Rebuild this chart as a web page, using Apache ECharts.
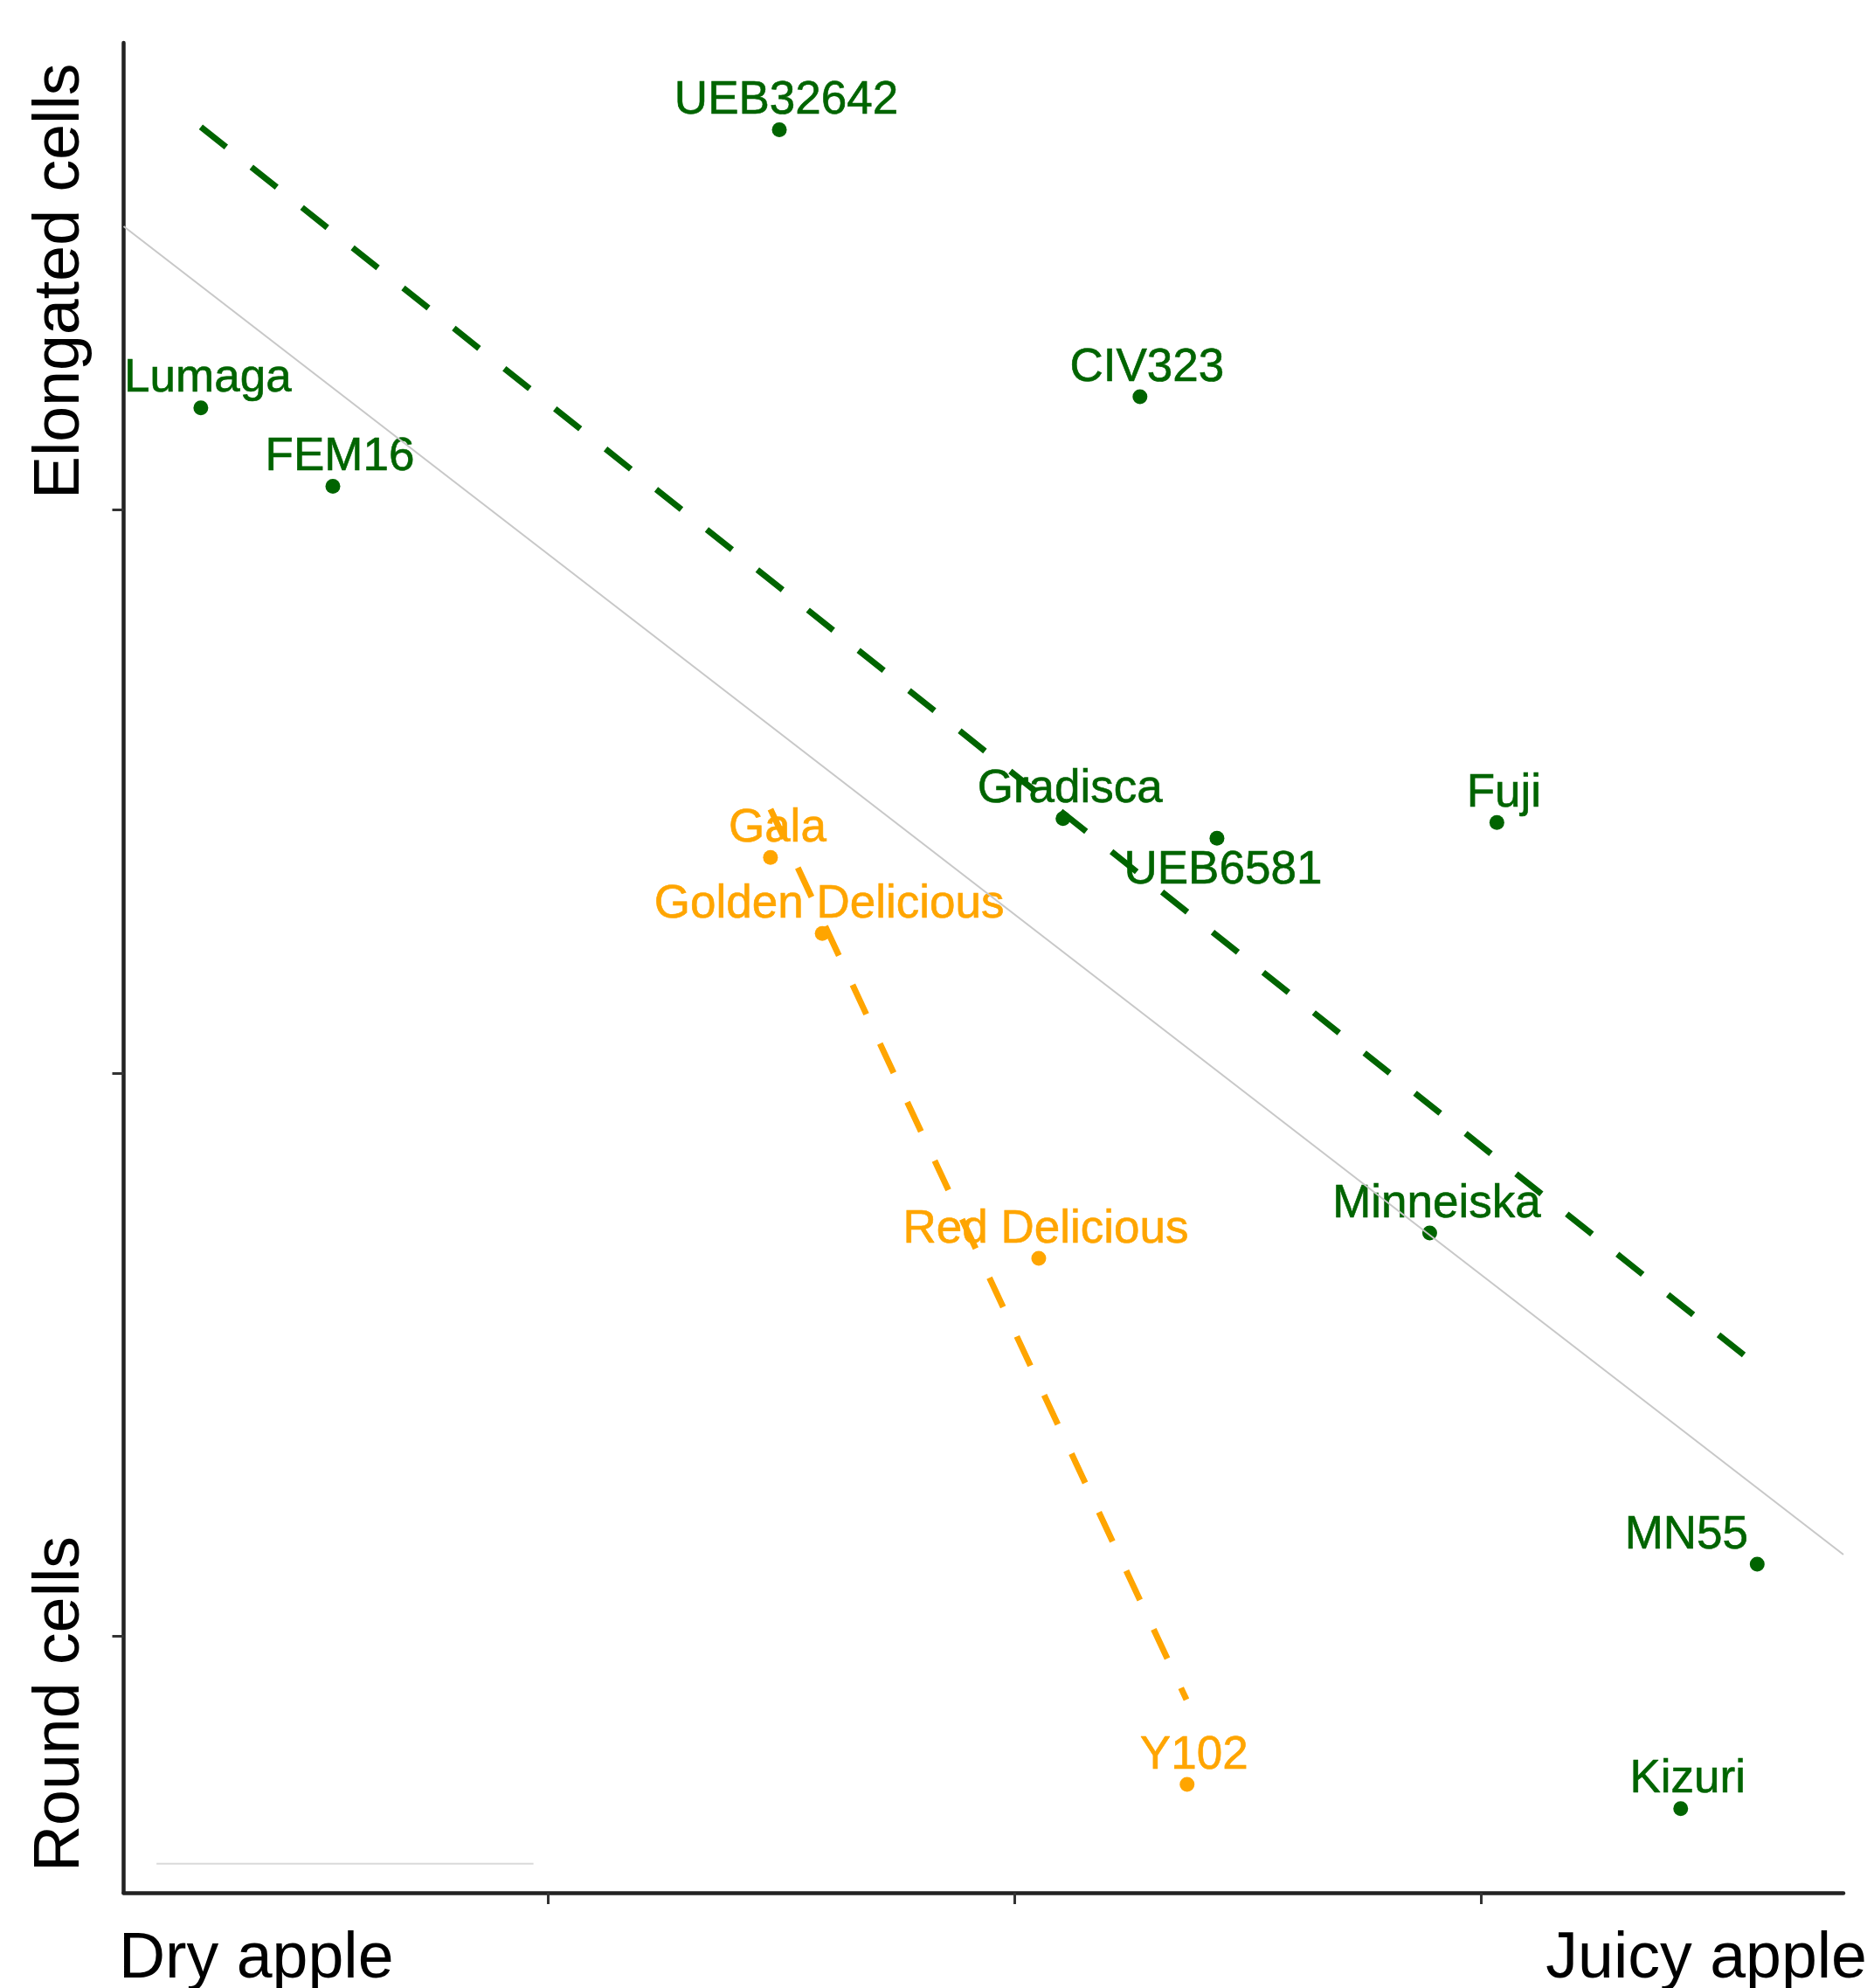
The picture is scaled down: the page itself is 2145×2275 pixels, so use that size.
<!DOCTYPE html>
<html>
<head>
<meta charset="utf-8">
<script src="https://cdn.jsdelivr.net/npm/echarts@6/dist/echarts.min.js"></script>
<style>
  html, body { margin: 0; padding: 0; background: #ffffff; }
  #chart { width: 2145px; height: 2275px; }
</style>
</head>
<body>
<div id="chart"></div>
<script>
// ---- data (axis units are arbitrary) ----
const xRange = [-1.9105, 1.7758];
const yRange = [-1.4554, 1.8293];
const xTicks = [-1, 0, 1];
const yTicks = [-1, 0, 1];

const greenNames = ['UEB32642', 'Lumaga', 'FEM16', 'CIV323', 'Gradisca', 'UEB6581', 'Fuji', 'Minneiska', 'MN55', 'Kizuri'];
const greenX = [-0.505, -1.745, -1.462, 0.268, 0.103, 0.433, 1.033, 0.889, 1.591, 1.427];
const greenY = [1.675, 1.181, 1.042, 1.201, 0.452, 0.417, 0.445, -0.284, -0.872, -1.306];

const orangeNames = ['Gala', 'Golden Delicious', 'Red Delicious', 'Y102'];
const orangeX = [-0.524, -0.413, 0.051, 0.369];
const orangeY = [0.383, 0.248, -0.329, -1.263];

// trend lines (end points)
const allFitX = [-1.9105, 1.7758];
const allFitY = [1.5035, -0.855];
const greenFitX = [-1.745, 1.592];
const greenFitY = [1.680, -0.520];
const orangeFitX = [-0.524, 0.3676];
const orangeFitY = [0.4686, -1.1125];
const greyBarX = [-1.840, -1.032];
const greyBarY = [-1.404, -1.404];

const xTitles = ['Dry apple', 'Juicy apple'];
const yTitles = ['Elongated cells', 'Round cells'];

// ---- styling ----
const GREEN = '#006400';
const ORANGE = '#FFA500';
const FONT = "'Liberation Sans', Arial, sans-serif";
const TITLE_FONT = "73.5px " + FONT;
const labelTweaks = {
  'MN55': { offset: [-81, 2] },
  'UEB6581': { position: 'bottom', distance: 1.8, offset: [7, 0] }
};

function pts(xs, ys) { return xs.map((x, i) => [x, ys[i]]); }

function scatterData(names, xs, ys, color) {
  return names.map((n, i) => {
    const t = labelTweaks[n] || {};
    return {
      name: n,
      value: [xs[i], ys[i]],
      label: {
        show: true,
        formatter: '{b}',
        position: t.position || 'top',
        distance: t.distance != null ? t.distance : 0,
        offset: t.offset || [8, 2],
        color: color,
        fontSize: 53,
        fontFamily: FONT,
        textBorderColor: color,
        textBorderWidth: 0.6
      }
    };
  });
}

const chart = echarts.init(document.getElementById('chart'), null, { renderer: 'canvas' });

chart.setOption({
  animation: false,
  backgroundColor: '#ffffff',
  grid: { left: 141.5, right: 35, top: 49, bottom: 109, outerBoundsMode: 'none', containLabel: false },
  xAxis: {
    type: 'value', min: xRange[0], max: xRange[1],
    axisLine: { show: true, onZero: false, lineStyle: { color: '#222', width: 4.5 } },
    axisTick: { show: true, customValues: xTicks, length: 13, lineStyle: { color: '#333', width: 3 } },
    axisLabel: { show: false },
    splitLine: { show: false }
  },
  yAxis: {
    type: 'value', min: yRange[0], max: yRange[1],
    axisLine: { show: true, onZero: false, lineStyle: { color: '#222', width: 4.5 } },
    axisTick: { show: true, customValues: yTicks, length: 13, lineStyle: { color: '#333', width: 3 } },
    axisLabel: { show: false },
    splitLine: { show: false }
  },
  graphic: [
    { type: 'text', x: 136, y: 2206, style: { text: xTitles[0], font: TITLE_FONT, fill: '#000', align: 'left', verticalAlign: 'top' } },
    { type: 'text', x: 2137, y: 2206, style: { text: xTitles[1], font: TITLE_FONT, fill: '#000', align: 'right', verticalAlign: 'top' } },
    { type: 'text', x: 33, y: 571, rotation: Math.PI / 2, style: { text: yTitles[0], font: TITLE_FONT, fill: '#000', align: 'left', verticalAlign: 'top' } },
    { type: 'text', x: 33, y: 2142, rotation: Math.PI / 2, style: { text: yTitles[1], font: TITLE_FONT, fill: '#000', align: 'left', verticalAlign: 'top' } }
  ],
  series: [
    {
      type: 'scatter', z: 2, symbol: 'circle', symbolSize: 17,
      itemStyle: { color: GREEN, opacity: 1 },
      data: scatterData(greenNames, greenX, greenY, GREEN)
    },
    {
      type: 'scatter', z: 2, symbol: 'circle', symbolSize: 17,
      itemStyle: { color: ORANGE, opacity: 1 },
      data: scatterData(orangeNames, orangeX, orangeY, ORANGE)
    },
    {
      type: 'line', z: 3, symbol: 'none', silent: true,
      lineStyle: { color: '#c8c8c8', width: 2 },
      data: pts(allFitX, allFitY)
    },
    {
      type: 'line', z: 3, symbol: 'none', silent: true,
      lineStyle: { color: '#dadada', width: 2 },
      data: pts(greyBarX, greyBarY)
    },
    {
      type: 'line', z: 4, symbol: 'none', silent: true,
      lineStyle: { color: GREEN, width: 7, type: [37, 37], cap: 'butt' },
      data: pts(greenFitX, greenFitY)
    },
    {
      type: 'line', z: 4, symbol: 'none', silent: true,
      lineStyle: { color: ORANGE, width: 7, type: [37, 37], cap: 'butt' },
      data: pts(orangeFitX, orangeFitY)
    }
  ]
});
</script>
</body>
</html>
